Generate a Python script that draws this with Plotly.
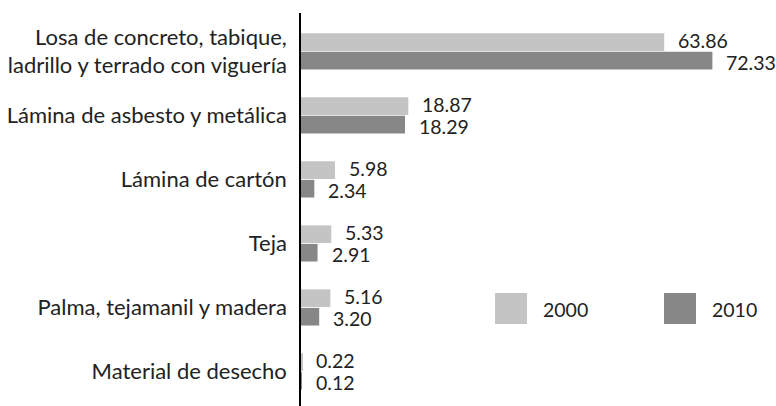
import plotly.graph_objects as go

categories = [
    "Losa de concreto, tabique,<br>ladrillo y terrado con viguería",
    "Lámina de asbesto y metálica",
    "Lámina de cartón",
    "Teja",
    "Palma, tejamanil y madera",
    "Material de desecho",
]
values_2000 = [63.86, 18.87, 5.98, 5.33, 5.16, 0.22]
values_2010 = [72.33, 18.29, 2.34, 2.91, 3.20, 0.12]
series_names = ["2000", "2010"]

FONT = "Lato"
TXT = "#222222"
C2000 = "#c4c4c4"
C2010 = "#878787"

fig = go.Figure()
for name, vals, col in [(series_names[0], values_2000, C2000), (series_names[1], values_2010, C2010)]:
    fig.add_trace(go.Bar(
        y=categories, x=vals, orientation="h", name=name,
        marker=dict(color=col, line=dict(width=0)),
        showlegend=False, hoverinfo="skip",
    ))

# value labels, spread slightly apart vertically like the reference
for vals, ys in [(values_2000, 11), (values_2010, -11)]:
    for cat, v in zip(categories, vals):
        fig.add_annotation(x=v, y=cat, xref="x", yref="y", text=f"{v:.2f}",
                           showarrow=False, xanchor="left", yanchor="middle",
                           xshift=12, yshift=ys,
                           font=dict(family=FONT, size=19.5, color=TXT))

W, H = 776, 406
L, R, T, B = 301, 20, 13, 0
xmax = 80.0
pw = W - L - R

fig.update_layout(
    width=W, height=H,
    margin=dict(l=L, r=R, t=T, b=B, pad=0, autoexpand=False),
    paper_bgcolor="white", plot_bgcolor="white",
    barmode="group", bargap=0.42, bargroupgap=0.05,
    font=dict(family=FONT, size=19, color=TXT),
    xaxis=dict(range=[0, xmax], visible=False, showgrid=False, zeroline=False, automargin=False),
    yaxis=dict(
        type="category", range=[5.54, -0.6], showgrid=False, zeroline=False,
        showline=True, linecolor="#000000", linewidth=1.5, automargin=False,
        ticks="outside", ticklen=8, tickcolor="rgba(0,0,0,0)",
        tickfont=dict(family=FONT, size=22, color=TXT),
    ),
)

def px_to_paper_x(px):
    return (px - L) / pw

def py_to_paper_y(py):
    return (H - B - py) / (H - T - B)

legend_items = [(series_names[0], C2000, 495), (series_names[1], C2010, 664)]
for name, col, x0 in legend_items:
    fig.add_shape(type="rect", xref="paper", yref="paper",
                  x0=px_to_paper_x(x0), x1=px_to_paper_x(x0 + 32),
                  y0=py_to_paper_y(324), y1=py_to_paper_y(293),
                  fillcolor=col, line=dict(width=0))
    fig.add_annotation(xref="paper", yref="paper", x=px_to_paper_x(x0 + 46),
                       y=py_to_paper_y(309), text=name, showarrow=False,
                       xanchor="left", yanchor="middle",
                       font=dict(family=FONT, size=19.5, color=TXT))

fig.write_html("out.html", config={"displayModeBar": False},
               post_script="document.body.style.margin='0';document.body.style.overflow='hidden';")
